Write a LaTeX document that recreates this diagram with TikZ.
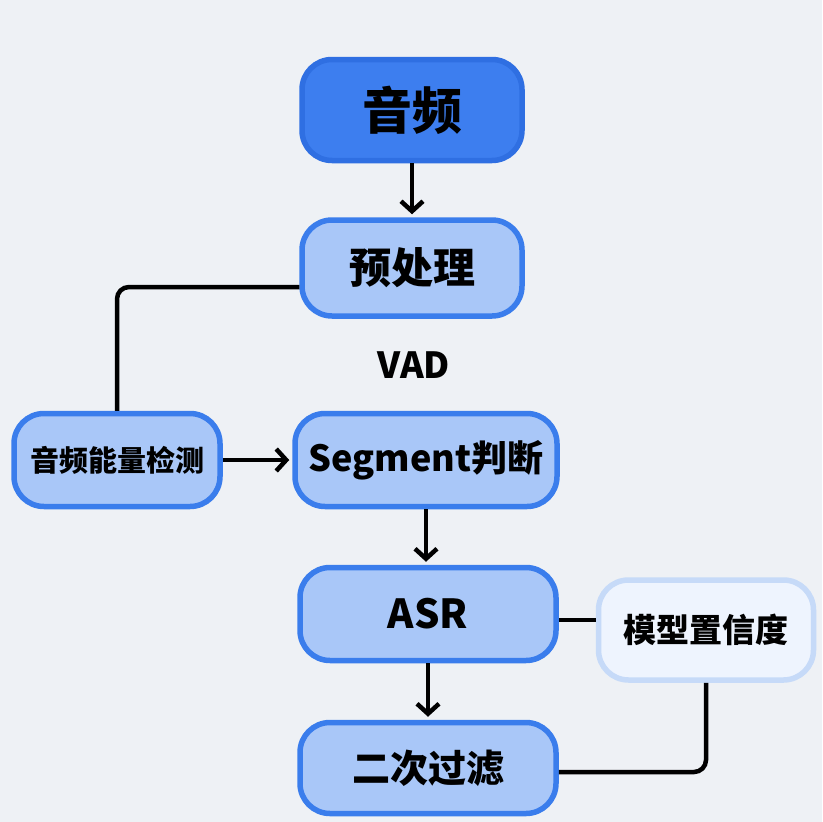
\documentclass[tikz,border=0pt]{standalone}
\usepackage{fontspec}
\setmainfont{Noto Sans CJK SC}
\usetikzlibrary{arrows.meta}

\definecolor{bgcol}{HTML}{EEF1F5}
\definecolor{topfill}{HTML}{3D7EEF}
\definecolor{topline}{HTML}{2F6FE2}
\definecolor{boxfill}{HTML}{A9C7F8}
\definecolor{boxline}{HTML}{3A7DEC}
\definecolor{softfill}{HTML}{EEF4FE}
\definecolor{softline}{HTML}{C6DAF8}

\newcommand{\fsz}[1]{\fontsize{#1}{#1}\selectfont}

\tikzset{
	box/.style={draw=boxline, fill=boxfill, line width=5.5pt, rounded corners=30pt, font=\bfseries, text=black},
	topbox/.style={box, draw=topline, fill=topfill},
	softbox/.style={box, draw=softline, fill=softfill},
	link/.style={line width=4.5pt, rounded corners=12pt},
	arr/.style={line width=4.5pt, -{Straight Barb[length=10pt,width=22pt,line width=4.5pt]}, shorten >=3pt}
}

\begin{document}
\begin{tikzpicture}[x=1pt,y=-1pt]
		\fill[bgcol] (0,0) rectangle (822,822);
		\useasboundingbox (0,0) rectangle (822,822);
		% main chain
		\node[topbox, minimum width=220pt, minimum height=101pt] (audio) at (412,110) {\fsz{50}音频};
		\node[box, minimum width=220pt, minimum height=96pt] (pre) at (412,268) {\fsz{42}预处理};
		\node[font=\bfseries] (vad) at (414,365) {\fsz{36}VAD};
		\node[box, minimum width=206pt, minimum height=93pt] (energy) at (117,460) {\fsz{29}音频能量检测};
		\node[box, minimum width=262pt, minimum height=93pt] (seg) at (426,460) {\fsz{36}Segment判断};
		\node[box, minimum width=256pt, minimum height=93pt] (asr) at (428,614) {\fsz{40}ASR};
		\node[softbox, minimum width=215pt, minimum height=100pt] (conf) at (706,630) {\fsz{33}模型置信度};
		\node[box, minimum width=256pt, minimum height=91pt] (filt) at (428,768) {\fsz{38}二次过滤};
		% connectors
		\draw[arr] (audio) -- (pre);
		\draw[link] ([yshift=-19pt]pre.west) -| (energy.north);
		\draw[arr] (energy) -- (seg);
		\draw[arr] (seg.south) -- (seg.south |- asr.north);
		\draw[arr] (asr) -- (filt);
		\draw[link] ([yshift=-6pt]asr.east) -- ([yshift=-6pt]asr.east -| conf.west);
		\draw[link] (conf.south) |- ([yshift=-4pt]filt.east);
		\end{tikzpicture}
\end{document}
